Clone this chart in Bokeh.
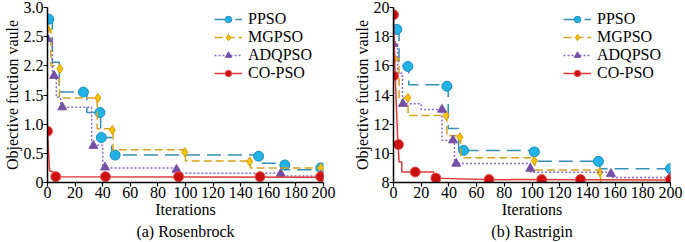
from bokeh.plotting import figure
from bokeh.layouts import row
from bokeh.models import Range1d, FixedTicker, Legend, LegendItem, Title, LinearAxis
from bokeh.embed import file_html
from bokeh.resources import INLINE

series_names = ["PPSO", "MGPSO", "ADQPSO", "CO-PSO"]
x_ticks = [0, 20, 40, 60, 80, 100, 120, 140, 160, 180, 200]

ros_y_ticks = [0, 0.5, 1.0, 1.5, 2.0, 2.5, 3.0]
ros_y_tick_labels = ["0", "0.5", "1.0", "1.5", "2.2", "2.5", "3.0"]

ros_ppso_step_x = [1, 3.5, 8.5, 28.5, 38.5, 46.5, 154, 172, 199]
ros_ppso_step_y = [2.8, 2.06, 1.55, 1.2, 0.77, 0.47, 0.33, 0.22, 0.22]
ros_ppso_mark_x = [1, 26, 38, 39, 49, 153, 172, 198]
ros_ppso_mark_y = [2.8, 1.55, 1.2, 0.77, 0.47, 0.45, 0.3, 0.25]

ros_mgpso_step_x = [0, 2.5, 8.6, 36, 47.5, 100, 147, 199]
ros_mgpso_step_y = [2.63, 2.0, 1.45, 0.92, 0.56, 0.37, 0.25, 0.25]
ros_mgpso_mark_x = [0, 9, 36.5, 47, 99.5, 146.5, 198]
ros_mgpso_mark_y = [2.63, 1.95, 1.45, 0.9, 0.52, 0.36, 0.25]

ros_adq_step_x = [0, 3.6, 6.4, 9.5, 32, 40, 95, 170, 199]
ros_adq_step_y = [2.46, 1.83, 1.46, 1.29, 0.64, 0.25, 0.16, 0.11, 0.11]
ros_adq_mark_x = [0, 4.8, 10.7, 33.3, 41.7, 93.5, 169, 198]
ros_adq_mark_y = [2.46, 1.83, 1.29, 0.63, 0.26, 0.22, 0.15, 0.12]

ros_co_line_x = [0, 1.5, 4, 5, 200]
ros_co_line_y = [0.88, 0.2, 0.18, 0.1, 0.09]
ros_co_mark_x = [0, 6, 42, 95, 154, 198]
ros_co_mark_y = [0.88, 0.1, 0.1, 0.1, 0.1, 0.1]

ras_y_ticks = [8, 10, 12, 14, 16, 18, 20]
ras_y_tick_labels = ["8", "10", "12", "14", "16", "18", "20"]

ras_ppso_step_x = [2.4, 4, 11, 39.5, 47, 102.5, 149, 200]
ras_ppso_step_y = [18.5, 16.0, 14.7, 11.7, 10.2, 9.45, 8.95, 8.95]
ras_ppso_mark_x = [2.4, 10.4, 38.6, 50.6, 101.7, 148, 200]
ras_ppso_mark_y = [18.5, 15.96, 14.6, 10.2, 10.1, 9.45, 8.95]

ras_mgpso_step_x = [0.7, 4, 10.5, 38.5, 48.5, 102, 149.5, 200]
ras_mgpso_step_y = [16.5, 13.8, 12.6, 11.2, 9.7, 8.85, 8.0, 8.0]
ras_mgpso_mark_x = [0.7, 10.4, 38, 48, 101.7, 149, 199.6]
ras_mgpso_mark_y = [16.5, 13.8, 12.6, 11.1, 9.5, 8.7, 8.0]

ras_adq_step_x = [0, 3, 6.5, 20, 35, 44, 99, 157, 200]
ras_adq_step_y = [17.5, 15.5, 13.4, 13.0, 10.9, 9.3, 8.7, 8.35, 8.35]
ras_adq_mark_x = [0, 6.8, 35, 43, 45.3, 98.8, 157, 200]
ras_adq_mark_y = [17.5, 13.4, 13.0, 10.9, 9.3, 8.95, 8.6, 8.4]

ras_co_line_x = [0, 1.2, 3.2, 4.1, 6, 6, 29, 29, 65, 200]
ras_co_line_y = [19.5, 15.3, 10.6, 9.4, 9.4, 8.72, 8.72, 8.3, 8.2, 8.18]
ras_co_mark_x = [0, 0, 3.6, 15.7, 30.6, 69, 107, 135, 200]
ras_co_mark_y = [19.5, 15.3, 10.6, 8.72, 8.3, 8.2, 8.2, 8.2, 8.2]

FONT = "Liberation Serif"
styles = {
    "PPSO": dict(line="#3590b8", dash="14 7", marker="circle", size=10, fill="#22b2e6", mline="#1b8cc0"),
    "MGPSO": dict(line="#d8a21c", dash="8 4", marker="diamond", size=9, fill="#f6c40c", mline="#d99e00"),
    "ADQPSO": dict(line="#8a68c6", dash="2 2", marker="triangle", size=9, fill="#7650a6", mline="#7650a6"),
    "CO-PSO": dict(line="#dc3b36", dash="solid", marker="circle", size=10, fill="#cc1010", mline="#e25454"),
}


def styled_axis(**kw):
    ax = LinearAxis(**kw)
    ax.axis_line_color = "black"
    ax.axis_line_width = 1.5
    ax.major_tick_line_color = "black"
    ax.major_tick_line_width = 1.2
    ax.major_tick_in = 0
    ax.major_tick_out = 4
    ax.minor_tick_line_color = None
    ax.major_label_text_font = FONT
    ax.major_label_text_font_size = "16px"
    ax.major_label_text_color = "black"
    ax.major_label_text_font_style = "normal"
    ax.major_label_standoff = 0
    ax.axis_label_text_font = FONT
    ax.axis_label_text_font_size = "16px"
    ax.axis_label_text_font_style = "normal"
    ax.axis_label_text_color = "black"
    ax.axis_label_text_line_height = 1.0
    ax.axis_label_standoff = 0
    return ax


def make_panel(width, border_left, border_right, yr, yticks, ylabels, title,
               series, legend_loc):
    p = figure(width=width, height=242, output_backend="svg", toolbar_location=None,
               x_range=Range1d(0, 200), y_range=Range1d(*yr),
               x_axis_type=None, y_axis_type=None,
               min_border_left=border_left, min_border_right=border_right,
               min_border_top=7, min_border_bottom=60)
    p.outline_line_color = None
    p.grid.grid_line_color = None

    xax = styled_axis(ticker=FixedTicker(ticks=x_ticks), axis_label="Iterations")
    yax = styled_axis(ticker=FixedTicker(ticks=yticks), axis_label="Objective fuction vaule",
                      major_label_overrides={t: l for t, l in zip(yticks, ylabels)})
    p.add_layout(xax, "below")
    p.add_layout(yax, "left")

    items = []
    for name, (lx, ly, mx, my, kind) in zip(series_names, series):
        s = styles[name]
        if kind == "step":
            lr = p.step(lx, ly, mode="after", line_color=s["line"], line_width=1.5,
                        line_dash=s["dash"])
        else:
            lr = p.line(lx, ly, line_color=s["line"], line_width=1.5, line_dash=s["dash"])
        mr = p.scatter(mx, my, marker=s["marker"], size=s["size"], fill_color=s["fill"],
                       line_color=s["mline"], line_width=1)
        items.append(LegendItem(label=name, renderers=[lr, mr]))

    leg = Legend(items=items, location=legend_loc, background_fill_alpha=0,
                 border_line_color=None, padding=0, spacing=0, margin=0,
                 glyph_width=28, glyph_height=16, label_height=16, label_standoff=6,
                 label_text_font=FONT, label_text_font_size="16px",
                 label_text_line_height=1.0, label_text_color="black")
    p.add_layout(leg, "center")
    p.add_layout(Title(text=title, align="center", text_font=FONT, text_font_size="16px",
                       text_font_style="normal", text_color="black", standoff=0, offset=0,
                       text_line_height=1.0),
                 "below")
    return p


p1 = make_panel(343, 43, 20, (0, 3.0), ros_y_ticks, ros_y_tick_labels, "(a) Rosenbrock",
                [(ros_ppso_step_x, ros_ppso_step_y, ros_ppso_mark_x, ros_ppso_mark_y, "step"),
                 (ros_mgpso_step_x, ros_mgpso_step_y, ros_mgpso_mark_x, ros_mgpso_mark_y, "step"),
                 (ros_adq_step_x, ros_adq_step_y, ros_adq_mark_x, ros_adq_mark_y, "step"),
                 (ros_co_line_x, ros_co_line_y, ros_co_mark_x, ros_co_mark_y, "line")],
                (167, 100))
p2 = make_panel(342, 50, 15, (8, 20), ras_y_ticks, ras_y_tick_labels, "(b) Rastrigin",
                [(ras_ppso_step_x, ras_ppso_step_y, ras_ppso_mark_x, ras_ppso_mark_y, "step"),
                 (ras_mgpso_step_x, ras_mgpso_step_y, ras_mgpso_mark_x, ras_mgpso_mark_y, "step"),
                 (ras_adq_step_x, ras_adq_step_y, ras_adq_mark_x, ras_adq_mark_y, "step"),
                 (ras_co_line_x, ras_co_line_y, ras_co_mark_x, ras_co_mark_y, "line")],
                (170, 100))

layout = row(p1, p2)
open("out.html", "w").write(file_html(layout, INLINE))
